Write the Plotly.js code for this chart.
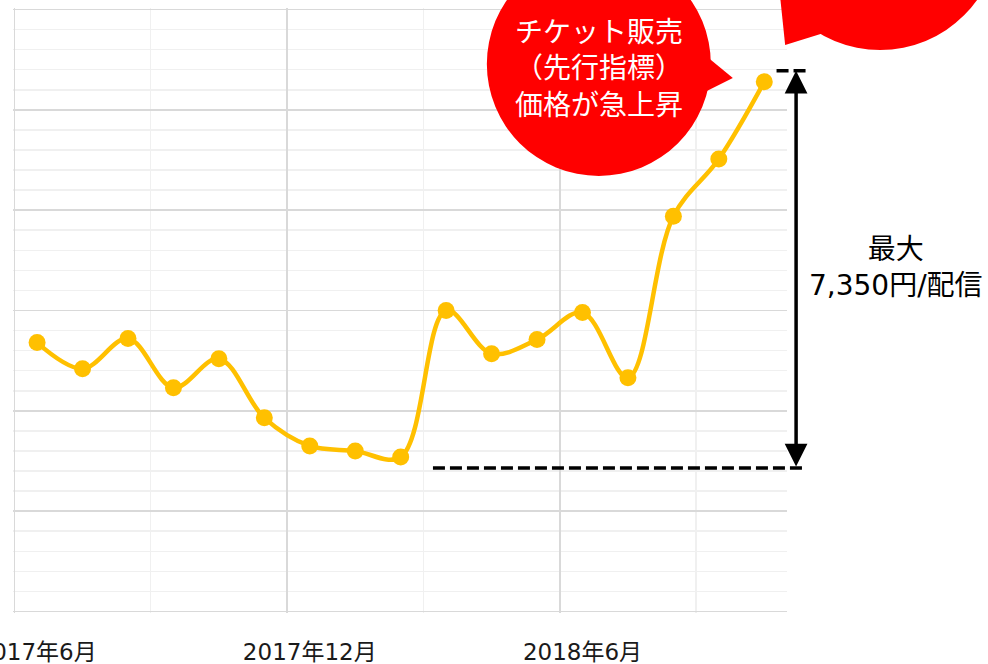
<!DOCTYPE html>
<html>
<head>
<meta charset="utf-8">
<script src="https://cdn.plot.ly/plotly-3.0.1.min.js"></script>
<style>
  html, body { margin: 0; padding: 0; background: #fff; }
  #chart { width: 988px; height: 664px; }
</style>
</head>
<body>
<div id="chart"></div>
<script>
// monthly ticket price (relative units)
const months = ['2017年6月', '2017年7月', '2017年8月', '2017年9月', '2017年10月', '2017年11月',
                '2017年12月', '2018年1月', '2018年2月', '2018年3月', '2018年4月', '2018年5月',
                '2018年6月', '2018年7月', '2018年8月', '2018年9月', '2018年10月'];
const price = [2.68, 2.42, 2.72, 2.23, 2.52, 1.93, 1.65, 1.60, 1.54,
               3.00, 2.57, 2.71, 2.98, 2.33, 3.94, 4.51, 5.28];

const bubbleText = 'チケット販売<br>（先行指標）<br>価格が急上昇';
const gapText = '最大<br>7,350円/配信';
const gapTop = 5.39;      // top of the double arrow
const gapBottom = 1.43;   // dashed baseline

function monthIndexes(arr) {
    let idx = [];
    arr.forEach(function(_, i){ idx.push(i) });
    return idx
}

function plotPrice(id) {
    const x = monthIndexes(months);
    const n = months.length;
    // ranges padded a little so the edge gridlines are kept
    const xRange = [-0.53, n - 0.5];
    const yRange = [-0.015, 6.015];
    const plotH = 664 - 8 - 51;
    // paper coordinates from data
    const px = function(v) { return (v - xRange[0]) / (xRange[1] - xRange[0]) };
    const py = function(v) { return (v - yRange[0]) / (yRange[1] - yRange[0]) };

    let trace = {
        x: x,
        y: price,
        type: 'scatter',
        mode: 'lines+markers',
        line: {color: '#FFC000', width: 4.5, shape: 'spline', smoothing: 1},
        marker: {color: '#FFC000', size: 17},
        hoverinfo: 'skip',
    };
    // same data on the overlay axis that carries the darker vertical grid
    let gridTrace = {
        x: x,
        y: price,
        xaxis: 'x2',
        type: 'scatter',
        mode: 'lines',
        line: {width: 0},
        opacity: 0,
        hoverinfo: 'skip',
    };

    const labelIdx = [0, 6, 12];
    const majorV = labelIdx.map(function(i){ return i - 0.5 });
    const minorV = labelIdx.map(function(i){ return i + 2.5 });

    const axisFont = {family: 'DejaVu Sans, Noto Sans CJK JP', size: 23, color: '#1a1a1a'};
    const noteFont = {family: 'DejaVu Sans, Noto Sans CJK JP', size: 28, color: '#000'};

    const b1 = {x: 12.36, y: 5.457};
    const b2 = {x: 18.55, y: 6.783};

    let layout = {
        width: 988,
        height: 664,
        margin: {l: 13, r: 201, t: 8, b: 51},
        paper_bgcolor: '#fff',
        plot_bgcolor: '#fff',
        showlegend: false,
        xaxis: {
            range: xRange,
            tickmode: 'array',
            tickvals: labelIdx,
            ticktext: labelIdx.map(function(i){ return months[i] }),
            ticklabelstandoff: 23,
            ticklabeloverflow: 'allow',
            ticks: '',
            tickfont: axisFont,
            showgrid: false,
            minor: {tickmode: 'array', tickvals: minorV, showgrid: true, gridcolor: '#f0f0f0', gridwidth: 1.5},
            zeroline: false,
            showline: false,
            fixedrange: true,
        },
        xaxis2: {
            overlaying: 'x',
            anchor: 'y',
            range: xRange,
            tickmode: 'array',
            tickvals: majorV,
            showticklabels: false,
            ticks: '',
            showgrid: true,
            gridcolor: '#d9d9d9',
            gridwidth: 1.5,
            zeroline: false,
            showline: false,
            fixedrange: true,
        },
        yaxis: {
            range: yRange,
            dtick: 1,
            showticklabels: false,
            ticks: '',
            showgrid: true,
            gridcolor: '#d9d9d9',
            gridwidth: 1.5,
            minor: {dtick: 0.2, showgrid: true, gridcolor: '#f0f0f0', gridwidth: 1.5},
            zeroline: false,
            showline: false,
            fixedrange: true,
        },
        shapes: [
            // dashed baseline and the small top mark
            {type: 'line', xref: 'paper', yref: 'paper', x0: px(8.71), x1: px(16.9),
             y0: py(gapBottom), y1: py(gapBottom), line: {color: '#000', width: 3.5, dash: '12px,5px'}},
            {type: 'line', xref: 'paper', yref: 'paper', x0: px(16.27), x1: px(16.92),
             y0: py(gapTop), y1: py(gapTop), line: {color: '#000', width: 3.5, dash: '12px,5px'}},
            // red speech bubble
            {type: 'circle', xref: 'paper', yref: 'paper', xsizemode: 'pixel', ysizemode: 'pixel',
             xanchor: px(b1.x), yanchor: py(b1.y), x0: -112, x1: 112, y0: -112, y1: 112,
             fillcolor: '#FF0000', line: {width: 0}},
            {type: 'path', xref: 'paper', yref: 'paper', xsizemode: 'pixel', ysizemode: 'pixel',
             xanchor: px(b1.x), yanchor: py(b1.y), path: 'M 100 14 L 134 -14 L 98 -32 Z',
             fillcolor: '#FF0000', line: {width: 0}},
            // second bubble, cut by the top edge
            {type: 'circle', xref: 'paper', yref: 'paper', xsizemode: 'pixel', ysizemode: 'pixel',
             xanchor: px(b2.x), yanchor: py(b2.y), x0: -119, x1: 119, y0: -119, y1: 119,
             fillcolor: '#FF0000', line: {width: 0}},
            {type: 'path', xref: 'paper', yref: 'paper', xsizemode: 'pixel', ysizemode: 'pixel',
             xanchor: px(b2.x), yanchor: py(b2.y), path: 'M -110 29 L -95 -114 L -50 -100 Z',
             fillcolor: '#FF0000', line: {width: 0}},
        ],
        annotations: [
            {xref: 'paper', yref: 'paper', x: px(b1.x), y: py(b1.y), xanchor: 'center', yanchor: 'middle',
             yshift: -3, text: bubbleText, showarrow: false,
             font: {family: 'Noto Sans CJK JP', size: 28, color: '#fff'}},
            // double arrow
            {xref: 'paper', yref: 'paper', x: px(16.70), y: py(gapTop), ax: 0,
             ay: (gapTop - gapBottom) / (yRange[1] - yRange[0]) * plotH,
             axref: 'pixel', ayref: 'pixel', text: '', showarrow: true, arrowside: 'end+start',
             arrowhead: 2, arrowsize: 1.3, arrowwidth: 3.5, arrowcolor: '#000', standoff: 0, startstandoff: 0},
            {xref: 'paper', yref: 'paper', x: px(18.89), y: py(3.43), xanchor: 'center', yanchor: 'middle',
             text: gapText, showarrow: false, font: noteFont},
        ],
    };

    let config = {displayModeBar: false, staticPlot: true};

    Plotly.newPlot(id, [gridTrace, trace], layout, config);
}

window.addEventListener('load', function () {
    plotPrice('chart');
})
</script>
</body>
</html>
